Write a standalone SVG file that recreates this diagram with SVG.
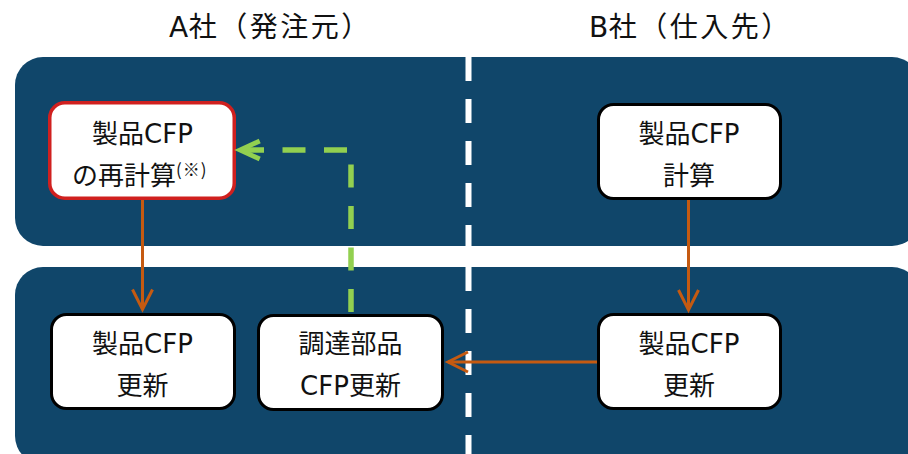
<svg xmlns="http://www.w3.org/2000/svg" width="908" height="454" viewBox="0 0 908 454">
<defs>
<style>
.band{fill:#10466a}
.box{fill:#fff;stroke:#000;stroke-width:3}
.red{fill:#fff;stroke:#d0201f;stroke-width:3.5}
.t{font-family:"DejaVu Sans","Noto Sans CJK JP",sans-serif;font-size:26px;fill:#111;text-anchor:middle}
.title{font-family:"DejaVu Sans","Noto Sans CJK JP",sans-serif;font-size:28px;fill:#111;letter-spacing:2.5px}
.or{fill:none;stroke:#c55a11;stroke-width:3}
.gr{fill:none;stroke:#92d050;stroke-width:5.5}
</style>
<marker id="ao" markerUnits="userSpaceOnUse" markerWidth="30" markerHeight="30" refX="0" refY="0" viewBox="-25 -15 30 30" orient="auto" overflow="visible">
<path d="M-20,-10 L0,0 L-20,10" fill="none" stroke="#c55a11" stroke-width="3"/>
</marker>
<marker id="ag" markerUnits="userSpaceOnUse" markerWidth="30" markerHeight="30" refX="0" refY="0" viewBox="-30 -15 35 30" orient="auto" overflow="visible">
<path d="M-23,-10.5 L0,0 L-23,10.5" fill="none" stroke="#92d050" stroke-width="5.5"/>
</marker>
</defs>
<rect width="908" height="454" fill="#fff"/>
<g id="lanes">
<rect class="band" x="15" y="57" width="905" height="189" rx="28"/>
<rect class="band" x="15" y="267" width="905" height="197" rx="28"/>
<line x1="468.5" y1="57" x2="468.5" y2="454" stroke="#fff" stroke-width="6" stroke-dasharray="24 18"/>
<text class="title" x="169" y="37"><tspan letter-spacing="0.5">A</tspan>社（発注元）</text>
<text class="title" x="589" y="37"><tspan letter-spacing="0.5">B</tspan>社（仕入先）</text>
</g>
<g id="n1">
<rect class="red" x="49.75" y="102.75" width="184.5" height="95.5" rx="15"/>
<text class="t" x="142.5" y="143">製品CFP</text>
<text class="t" x="72" y="185" style="text-anchor:start">の再計算<tspan font-size="17" dy="-9" letter-spacing="1" font-family="Noto Sans CJK JP, sans-serif">(※)</tspan></text>
</g>
<g id="n2">
<rect class="box" x="51.5" y="314.5" width="183" height="94" rx="15"/>
<text class="t" x="142.5" y="353">製品CFP</text>
<text class="t" x="142.5" y="395">更新</text>
</g>
<g id="n3">
<rect class="box" x="258.5" y="315.5" width="184" height="94" rx="15"/>
<text class="t" x="350.5" y="353">調達部品</text>
<text class="t" x="350.5" y="395">CFP更新</text>
</g>
<g id="n4">
<rect class="box" x="598.5" y="104.5" width="182" height="94" rx="15"/>
<text class="t" x="689" y="143">製品CFP</text>
<text class="t" x="689" y="185">計算</text>
</g>
<g id="n5">
<rect class="box" x="598.5" y="314.5" width="182" height="94" rx="15"/>
<text class="t" x="689" y="353">製品CFP</text>
<text class="t" x="689" y="395">更新</text>
</g>
<g id="connectors">
<path class="or" d="M142.5,200 V309.5" marker-end="url(#ao)"/>
<path class="or" d="M688.5,200 V310" marker-end="url(#ao)"/>
<path class="or" d="M597,362 H448" marker-end="url(#ao)"/>
<path class="gr" d="M351,314 V150 H240" stroke-dasharray="23 18.5" stroke-dashoffset="39.5" marker-end="url(#ag)"/>
</g>
</svg>
